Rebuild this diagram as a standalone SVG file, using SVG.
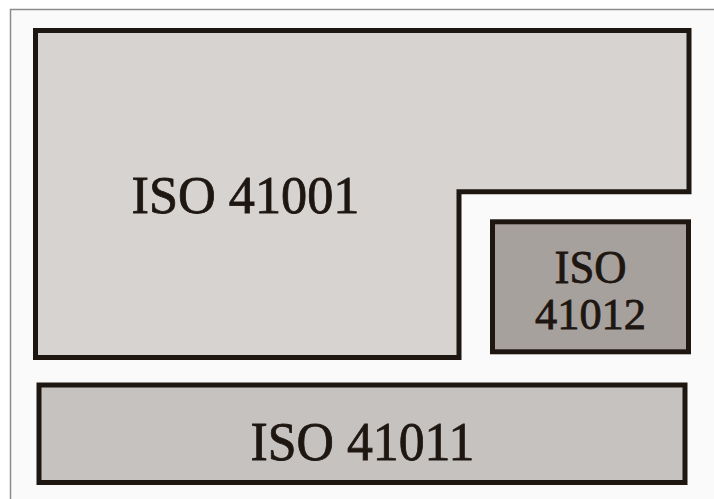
<svg xmlns="http://www.w3.org/2000/svg" width="714" height="499" viewBox="0 0 714 499">
<style>
.box{stroke:#1e1611;stroke-width:5;stroke-linejoin:miter}
.lbl{font-family:"Liberation Serif","Times New Roman",serif;fill:#1e1611;stroke:#1e1611;stroke-width:0.8;text-anchor:middle}
</style>
<rect x="0" y="0" width="714" height="499" fill="#ffffff"/>
<rect x="10.5" y="9.5" width="800" height="600" fill="#fafafa" stroke="#8c8c8c" stroke-width="1.5"/>
<g id="iso41001">
<path class="box" fill="#d7d3d0" d="M35.5,30.5 H689 V191.7 H459 V357.5 H35.5 Z"/>
<text class="lbl" x="245.5" y="213.3" font-size="53" textLength="228" lengthAdjust="spacingAndGlyphs">ISO 41001</text>
</g>
<g id="iso41012">
<rect class="box" fill="#a7a19e" x="492.5" y="221.8" width="196" height="130"/>
<text class="lbl" x="590.5" y="283.3" font-size="46" textLength="72" lengthAdjust="spacingAndGlyphs">ISO</text>
<text class="lbl" x="590.5" y="329.3" font-size="44" textLength="111" lengthAdjust="spacingAndGlyphs">41012</text>
</g>
<g id="iso41011">
<rect class="box" fill="#c6c2bf" x="39" y="385" width="646" height="97.5"/>
<text class="lbl" x="362.5" y="460" font-size="54" textLength="224" lengthAdjust="spacingAndGlyphs">ISO 41011</text>
</g>
<g id="connectors"></g>
</svg>
